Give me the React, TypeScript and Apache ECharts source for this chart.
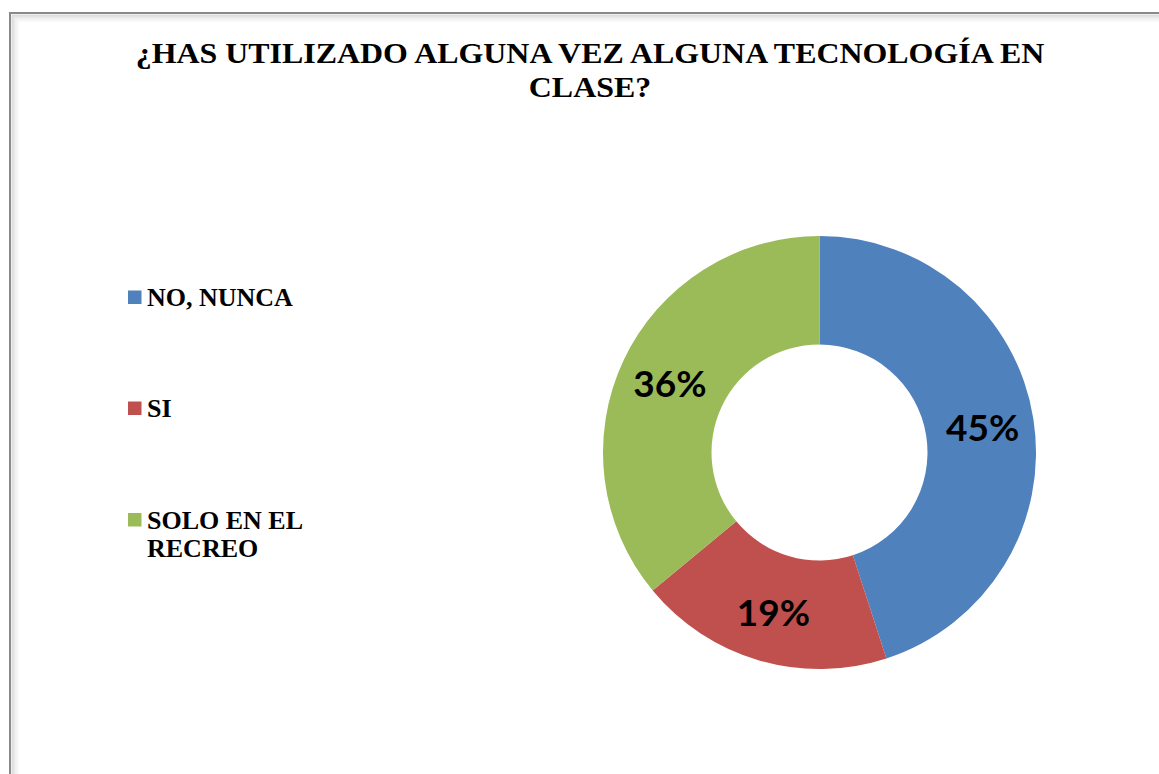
import React, { useEffect, useRef } from "react";
import * as echarts from "echarts";

const TITLE = "¿HAS UTILIZADO ALGUNA VEZ ALGUNA TECNOLOGÍA EN\nCLASE?";
const categories = ["NO, NUNCA", "SI", "SOLO EN EL RECREO"];
const legendLabels = ["NO, NUNCA", "SI", "SOLO EN EL\nRECREO"];
const values = [45, 19, 36];
const colors = ["#4F81BD", "#C0504D", "#9BBB59"];

const legendTop = [297.5, 408.5, 520];

export default function App() {
  const ref = useRef<HTMLDivElement>(null);
  useEffect(() => {
    if (!ref.current) return;
    const chart = echarts.init(ref.current, null, { renderer: "svg" });
    const serif = "'Liberation Serif', 'Times New Roman', serif";
    const lh = 28.7;
    const legendGraphics: any[] = [];
    legendLabels.forEach((lab, i) => {
      legendGraphics.push({
        type: "rect",
        shape: { x: 128, y: legendTop[i] - 7, width: 13.5, height: 13.5 },
        style: { fill: colors[i] },
      });
      legendGraphics.push({
        type: "text",
        x: 147,
        y: legendTop[i] - lh / 2,
        style: {
          text: lab,
          font: `bold 26px ${serif}`,
          fill: "#000",
          verticalAlign: "top",
          lineHeight: lh,
        },
      });
    });
    const borderGraphics: any[] = [
      { c: "#f8f8f8", o: 8 },
      { c: "#f1f1f1", o: 6 },
      { c: "#e9e9e9", o: 4 },
      { c: "#dedede", o: 2.5 },
    ].map((b) => ({
      type: "rect",
      silent: true,
      shape: { x: 10 + b.o, y: 13 + b.o, width: 1300, height: 1000 },
      style: { fill: "none", stroke: b.c, lineWidth: 2 },
    }));
    borderGraphics.push({
      type: "rect",
      silent: true,
      shape: { x: 10, y: 13, width: 1300, height: 1000 },
      style: { fill: "none", stroke: "#8a8a8a", lineWidth: 2 },
    });
    const titleGraphic = {
      type: "text",
      x: 590,
      y: 37,
      scaleX: 1.12,
      style: {
        text: TITLE,
        font: `bold 28.5px ${serif}`,
        fill: "#000",
        align: "center",
        verticalAlign: "top",
        lineHeight: 34,
      },
    };

    chart.setOption({
      animation: false,
      backgroundColor: "#fff",
      graphic: [...borderGraphics, titleGraphic, ...legendGraphics],
      series: [
        {
          type: "pie",
          center: [819.5, 452.5],
          radius: [108, 216.5],
          startAngle: 90,
          clockwise: true,
          avoidLabelOverlap: false,
          label: {
            show: true,
            position: "inside",
            formatter: (p: any) => `${p.value}%`,
            fontFamily: "Lato, 'Open Sans', sans-serif",
            fontWeight: "bold",
            fontSize: 37,
            color: "#000",
          },
          labelLine: { show: false },
          emphasis: { disabled: true },
          itemStyle: { borderWidth: 0 },
          data: categories.map((c, i) => ({
            name: c,
            value: values[i],
            itemStyle: { color: colors[i] },
          })),
        },
      ],
    });
    return () => chart.dispose();
  }, []);
  return (
    <div
      ref={ref}
      style={{ position: "absolute", left: 0, top: 0, width: 1159, height: 774 }}
    />
  );
}
